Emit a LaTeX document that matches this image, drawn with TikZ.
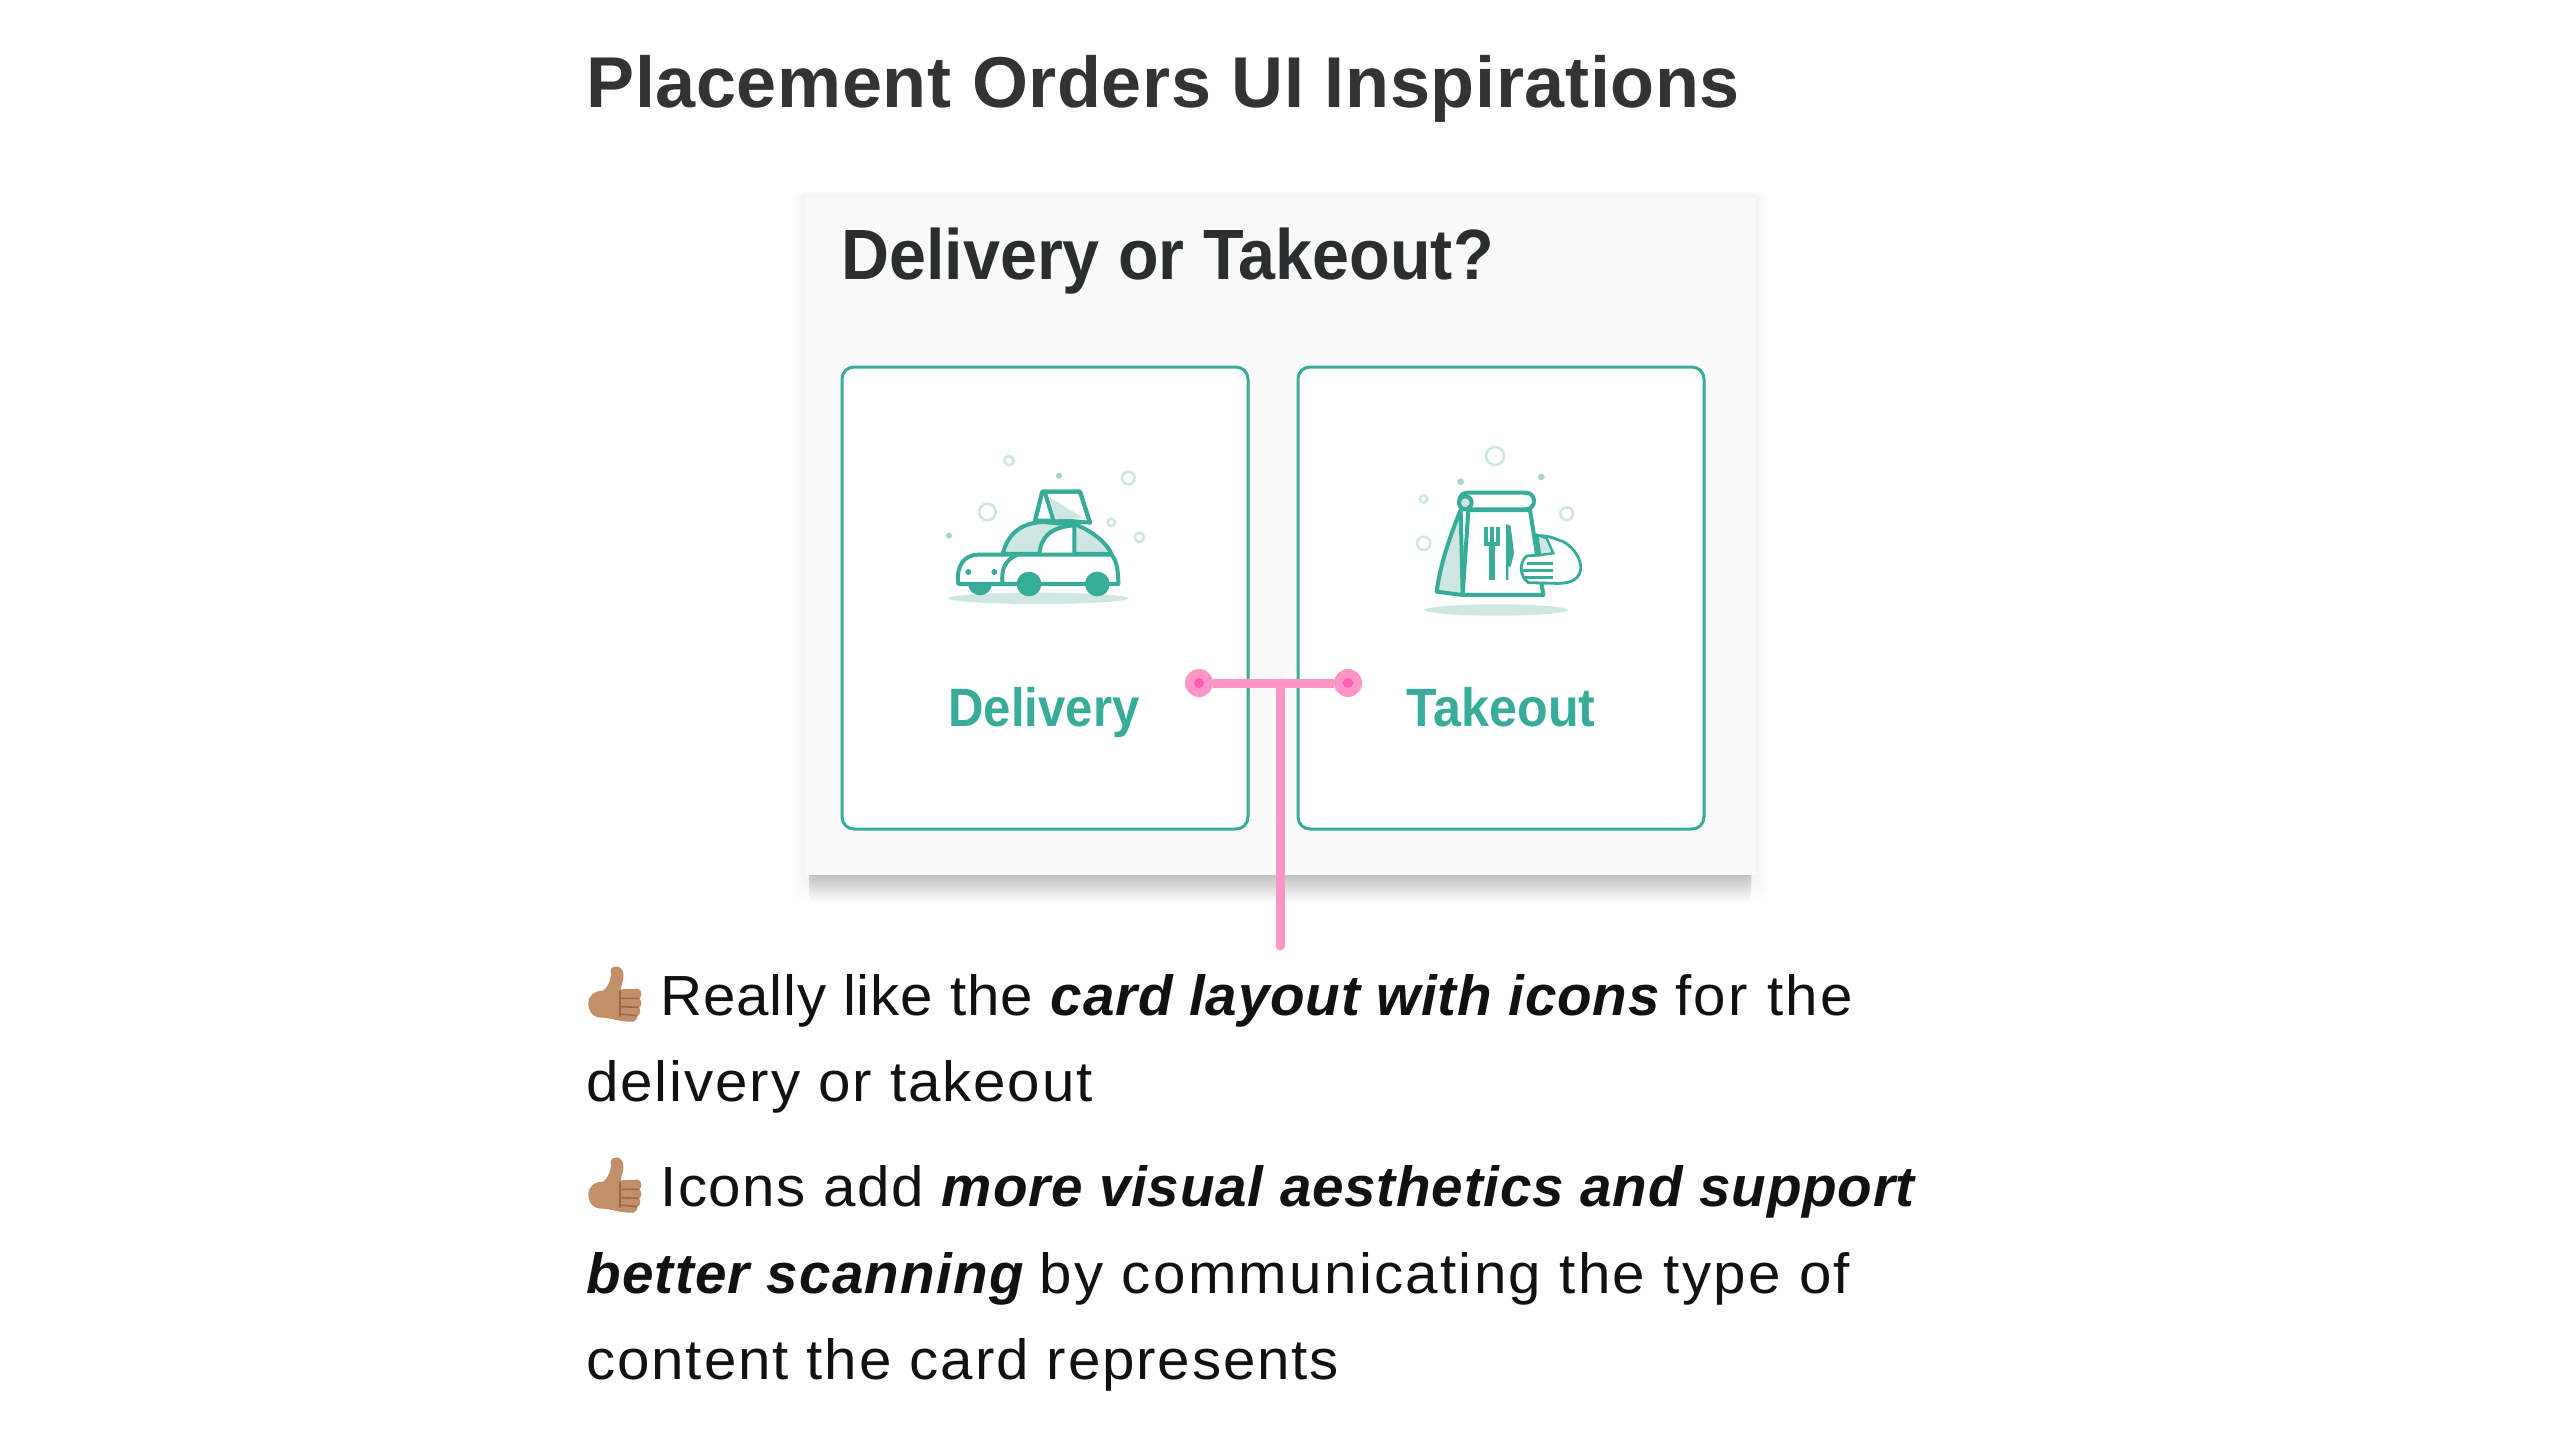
\documentclass[tikz,border=0pt]{standalone}
\usepackage{fontspec}
\setmainfont{Liberation Sans}
\newfontfamily\bodyf[LetterSpace=3.3,FakeStretch=1.03]{Liberation Sans}
\newfontfamily\boldif[LetterSpace=1.4]{Liberation Sans}
\newfontfamily\boldwide[LetterSpace=2.2]{Liberation Sans}
\newfontfamily\titlef[LetterSpace=0.85]{Liberation Sans}
\newfontfamily\cardf{Liberation Sans}
\newcommand{\emphbi}[1]{{\boldif\bfseries\itshape #1}}
\newcommand{\tracked}[2]{{\addfontfeature{LetterSpace=#1}#2}}
\definecolor{ink}{HTML}{111111}
\definecolor{titleink}{HTML}{333333}
\definecolor{cardink}{HTML}{2B2E2E}
\definecolor{teal}{HTML}{36AC99}
\definecolor{tealpale}{HTML}{CFE7E3}
\definecolor{pinkline}{HTML}{FF94C6}
\definecolor{pinkdot}{HTML}{FF5FAE}
\definecolor{cardbg}{HTML}{FAFAFA}
\definecolor{skin}{HTML}{C1906A}
\definecolor{skindark}{HTML}{96694A}
\tikzset{
  txt/.style={anchor=base west,inner sep=0pt,text=ink,font=\bodyf\fontsize{28.3}{34}\selectfont},
  optionbox/.style={draw=teal,line width=1.5pt,rounded corners=6pt,fill=white},
  optionlabel/.style={anchor=base,inner sep=0pt,text=teal,font=\cardf\bfseries\fontsize{27}{32}\selectfont},
  pinkend/.style={circle,fill=pinkline,minimum size=14pt,inner sep=0pt},
  pinkl/.style={draw=pinkline,line width=4.5pt},
  icon/.style={draw=teal,line width=2pt,line join=round,line cap=round},
  pale/.style={fill=tealpale},
  bubble/.style={draw=tealpale,line width=1.3pt,fill=white},
  speck/.style={fill=tealpale!70!teal},
  thumbup/.pic={
    \fill[skin] (100,122) .. controls (118,105) and (125,85) .. (122,62) .. controls (125,42) and (158,45) .. (160,72) .. controls (162,95) and (152,108) .. (152,118) -- (203,116) .. controls (218,120) and (216,140) .. (208,145) .. controls (218,155) and (214,168) .. (208,172) .. controls (214,182) and (210,195) .. (202,197) .. controls (204,210) and (190,218) .. (180,215) .. controls (150,215) and (125,205) .. (100,203) .. controls (70,205) and (55,185) .. (55,160) .. controls (55,135) and (75,122) .. (100,122) -- cycle;
    \draw[skindark,line width=.8pt] (150,122) -- (150,200) (150,145) -- (208,145) (150,170) -- (206,172) (150,192) -- (202,197);
  }
}
\begin{document}
\begin{tikzpicture}[x=0.5pt,y=-0.5pt]
\useasboundingbox (0,0) rectangle (2560,1440);
\fill[white] (0,0) rectangle (2560,1440);

\node[anchor=base west,inner sep=0pt,text=titleink,font=\titlef\bfseries\fontsize{36}{42}\selectfont] (title) at (586,107) {Placement Orders UI Inspirations};

% card shadow
\foreach \i in {1,...,12}{
  \fill[black,opacity=0.004,rounded corners=4pt] ({805-\i},{197-\i*0.5}) rectangle ({1756+\i},{875+\i*2});
}
\foreach \j in {1,...,12}{
  \fill[black,opacity=0.017,rounded corners=3pt] (809,860) rectangle (1751,{875+\j*2.3});
}
\fill[cardbg] (805,197) rectangle (1756,875);
\node[anchor=base west,inner sep=0pt,text=cardink,font=\cardf\bfseries\fontsize{35.6}{40}\selectfont] (cardtitle) at (841,279) {\scalebox{.933}[1]{Delivery or Takeout?}};

\draw[optionbox] (842,367) rectangle (1248,829);
\draw[optionbox] (1298,367) rectangle (1704,829);
\node[optionlabel] (delivery) at (1044,726) {\scalebox{.91}[1]{Delivery}};
\node[optionlabel] (takeout) at (1501,726) {\scalebox{.93}[1]{Takeout}};

% car icon
\begin{scope}[shift={(880,420)},x=0.5pt/3,y=-0.5pt/3]
\fill[tealpale] (475,535) ellipse (270 and 17);
\foreach \p/\r in {{387,122}/14,{745,174}/19,{322,276}/25,{694,307}/11,{778,352}/14}{\draw[bubble] (\p) circle (\r);}
\foreach \p in {{537,167},{207,347}}{\fill[speck] (\p) circle (9);}
\fill[teal] (300,490) circle (36);
\path[pale,icon] (368,402) .. controls (385,335) and (430,308) .. (490,306) -- (590,315) .. controls (640,335) and (680,370) .. (695,402) -- cycle;
\fill[white] (478,400) .. controls (490,345) and (520,322) .. (583,320) -- (583,400) -- cycle;
\draw[icon] (478,400) .. controls (485,350) and (510,322) .. (583,316) (583,316) -- (583,400);
\path[fill=white,icon] (465,302) -- (487,215) -- (600,215) -- (630,308) -- (560,302) -- cycle;
\fill[tealpale] (510,232) -- (612,295) -- (525,298) -- cycle;
\draw[icon] (465,302) -- (487,215) -- (600,215) -- (630,308) (497,225) -- (520,300);
\path[fill=white,icon] (235,492) .. controls (228,440) and (250,405) .. (295,404) -- (695,404) .. controls (712,425) and (715,460) .. (715,492) -- cycle;
\draw[icon] (368,492) .. controls (362,450) and (375,420) .. (410,405);
\fill[teal] (265,456) circle (9) (343,456) circle (9);
\fill[teal] (447,492) circle (37) (652,492) circle (37);
\end{scope}

% bag icon
\begin{scope}[shift={(1340,420)},x=0.5pt/3,y=-0.5pt/3]
\fill[tealpale] (470,570) ellipse (215 and 17);
\foreach \p/\r in {{465,108}/27,{251,237}/11,{680,281}/19,{251,370}/20}{\draw[bubble] (\p) circle (\r);}
\foreach \p in {{362,185},{604,171}}{\fill[speck] (\p) circle (10);}
\path[pale,icon] (362,270) .. controls (325,360) and (300,440) .. (290,515) -- (368,525) -- cycle;
\path[fill=white,icon] (385,270) -- (570,270) -- (610,525) -- (368,525) -- cycle;
\path[fill=white,icon,rounded corners=4pt] (358,218) -- (582,218) -- (582,268) -- (358,268) -- cycle;
\path[pale,icon] (376,248) circle (19);
\draw[teal,line width=2pt] (437,322) -- (437,372) -- (473,372) -- (473,322) (455,322) -- (455,372);
\draw[teal,line width=3pt] (455,372) -- (455,480);
\fill[teal] (498,312) -- (512,318) -- (522,400) -- (512,440) -- (505,440) -- (505,480) -- (498,480) -- cycle;
\path[fill=white,draw=teal,line width=1.4pt,line join=round] (585,350) .. controls (620,340) and (650,360) .. (670,365) .. controls (705,385) and (725,420) .. (722,450) .. controls (715,485) and (680,492) .. (640,490) -- (565,488) .. controls (540,470) and (535,430) .. (560,408) -- (600,405) -- cycle;
\draw[teal,line width=1.5pt] (560,432) -- (638,432) (555,472) -- (638,472) (550,452) -- (638,452);
\path[pale,draw=teal,line width=1.2pt] (592,345) -- (620,355) -- (640,400) -- (600,405) -- cycle;
\end{scope}

% pink connector
\node[pinkend] (pl) at (1199,683) {};
\node[pinkend] (pr) at (1348,683) {};
\coordinate (junction) at (1280,683);
\coordinate (tail) at (1280,946);
\draw[pinkl] (pl) -- (pr);
\draw[pinkl,line cap=round] (junction) -- (tail);
\fill[pinkdot] (pl.center) circle (5) (pr.center) circle (5);

% text
\begin{scope}[shift={(570,950)},x=0.5pt/3,y=-0.5pt/3]
\pic {thumbup};
\end{scope}
\begin{scope}[shift={(570,1141)},x=0.5pt/3,y=-0.5pt/3]
\pic {thumbup};
\end{scope}
\node[txt] (l1) at (660,1015) {\tracked{1.4}{Really like the} \emphbi{card layout with icons}\hspace{-1.2pt} \tracked{4.5}{for the}};
\node[txt] (l2) at (586,1101) {delivery or takeout};
\node[txt] (l3) at (660,1206) {\tracked{2.7}{Icons add} \emphbi{more visual aesthetics and support}};
\node[txt] (l4) at (586,1293) {{\boldwide\bfseries\itshape better scanning}\hspace{-1.2pt} \tracked{4}{by communicating the type of}};
\node[txt] (l5) at (586,1379) {content the card represents};
\end{tikzpicture}
\end{document}
